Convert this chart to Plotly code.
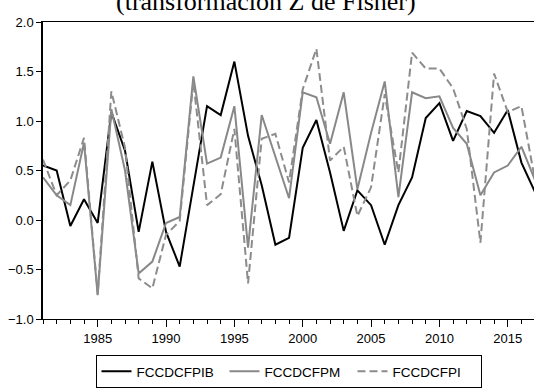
import plotly.graph_objects as go

# Annual observations, 1981-2017
years = list(range(1981, 2018))

fccdcfpib = [0.55, 0.50, -0.06, 0.21, -0.03, 1.09, 0.70, -0.12, 0.59, -0.12,
             -0.47, 0.33, 1.15, 1.06, 1.60, 0.85, 0.35, -0.25, -0.18, 0.73,
             1.01, 0.48, -0.11, 0.30, 0.15, -0.25, 0.15, 0.43, 1.03, 1.18,
             0.80, 1.10, 1.05, 0.88, 1.11, 0.58, 0.28]

fccdcfpm = [0.43, 0.25, 0.15, 0.78, -0.76, 1.12, 0.50, -0.54, -0.42, -0.03,
            0.03, 1.45, 0.57, 0.63, 1.15, -0.28, 1.06, 0.64, 0.22, 1.29,
            1.24, 0.77, 1.29, 0.31, 0.88, 1.40, 0.23, 1.29, 1.23, 1.25,
            0.93, 0.77, 0.25, 0.48, 0.55, 0.74, 0.40]

fccdcfpi = [0.61, 0.25, 0.40, 0.83, -0.75, 1.30, 0.73, -0.59, -0.69, -0.15,
            -0.01, 1.40, 0.15, 0.26, 0.92, -0.64, 0.82, 0.87, 0.38, 1.32,
            1.73, 0.60, 0.74, 0.04, 0.33, 1.27, 0.48, 1.69, 1.53, 1.53,
            1.33, 0.92, -0.23, 1.48, 1.09, 1.15, 0.40]

title_text = "(transformación Z de Fisher)"

fig = go.Figure()
fig.add_trace(go.Scatter(x=years, y=fccdcfpib, mode="lines", name="FCCDCFPIB",
                         line=dict(color="#000000", width=2)))
fig.add_trace(go.Scatter(x=years, y=fccdcfpm, mode="lines", name="FCCDCFPM",
                         line=dict(color="#888888", width=2)))
fig.add_trace(go.Scatter(x=years, y=fccdcfpi, mode="lines", name="FCCDCFPI",
                         line=dict(color="#8c8c8c", width=2, dash="8px,4px")))

fig.update_layout(
    width=534, height=388,
    margin=dict(l=43, r=0, t=22, b=68),
    paper_bgcolor="white", plot_bgcolor="white",
    font=dict(family="Liberation Sans, Arial, sans-serif", size=13, color="black"),
    showlegend=True,
    legend=dict(orientation="h", x=0.5, xanchor="center", y=-0.175, yanchor="middle",
                bordercolor="black", borderwidth=1, bgcolor="white",
                entrywidth=83, entrywidthmode="pixels",
                font=dict(size=13.5), traceorder="normal"),
    annotations=[dict(text=title_text, xref="paper", yref="paper",
                      x=0.4538, y=1.014, xanchor="center", yanchor="bottom",
                      showarrow=False,
                      font=dict(family="Liberation Serif, Times New Roman, serif",
                                size=26, color="black"))],
)

fig.update_xaxes(range=[1981, 2016.92], showgrid=False, zeroline=False,
                 showline=True, linecolor="black", linewidth=1, mirror=True,
                 ticks="outside", ticklen=7, tickcolor="black",
                 tick0=1985, dtick=5,
                 minor=dict(dtick=1, ticks="outside", ticklen=4, tickcolor="black"))
fig.update_yaxes(range=[-1, 2], showgrid=False, zeroline=False,
                 showline=True, linecolor="black", linewidth=1.5,
                 ticks="outside", ticklen=5, tickcolor="black",
                 tick0=-1, dtick=0.5, tickformat=".1f")

fig.write_html("out.html")
